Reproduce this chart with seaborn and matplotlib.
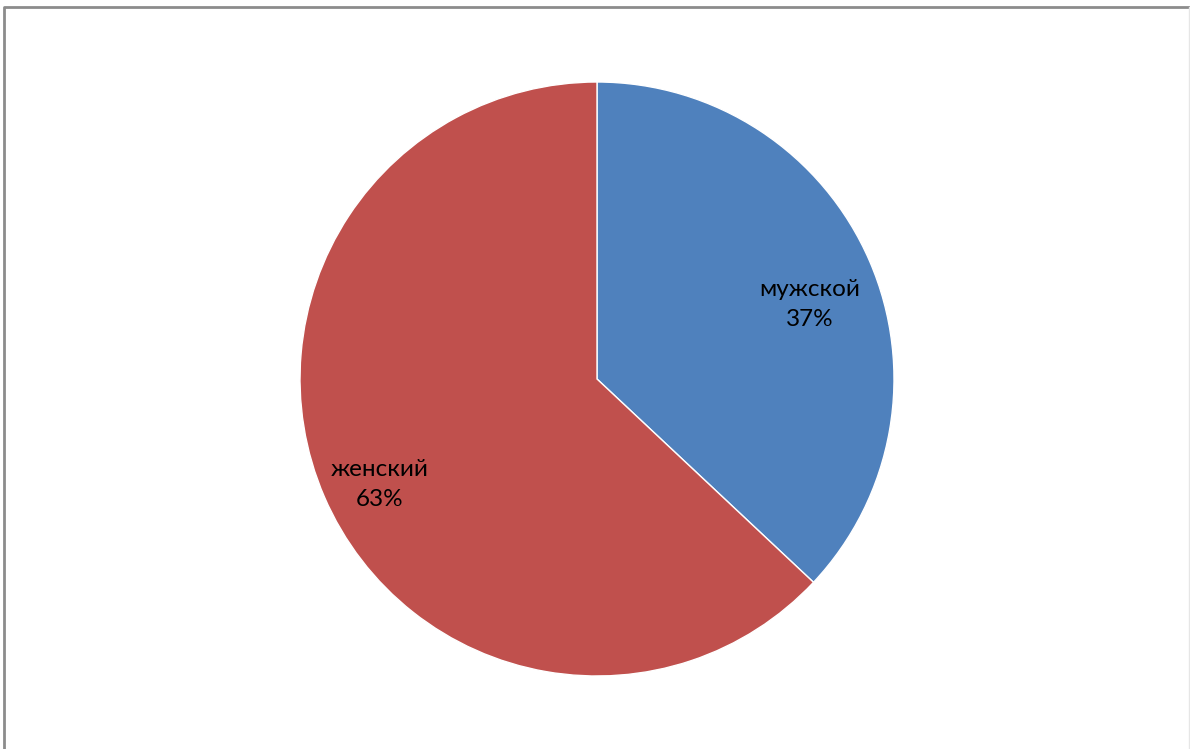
import matplotlib
matplotlib.use("Agg")
import matplotlib.pyplot as plt
import seaborn as sns
from matplotlib.lines import Line2D

categories = ['мужской', 'женский']
shares = [37, 63]
colors = ['#4F81BD', '#C0504D']

sns.set_style('white')
plt.rcParams['font.family'] = ['Lato', 'Open Sans', 'DejaVu Sans']

W, H = 1190, 749
fig = plt.figure(figsize=(W / 100, H / 100), dpi=100)

# frame of the chart area (bottom edge falls outside the picture)
x0, x1, ytop = 4 / W, 1188.5 / W, 1 - 6.5 / H
fig.add_artist(Line2D([x0, x0, x1], [0, ytop, ytop], transform=fig.transFigure,
                      color='#8c8c8c', linewidth=2))
fig.add_artist(Line2D([x1, x1], [ytop, 0], transform=fig.transFigure,
                      color='#e6e6e6', linewidth=1))

cx, cy, r = 597, 379, 297
ax = fig.add_axes([(cx - r) / W, (H - cy - r) / H, 2 * r / W, 2 * r / H])
wedges, _ = ax.pie(shares, colors=colors, startangle=90, counterclock=False,
                   radius=1, wedgeprops=dict(edgecolor='white', linewidth=1))
ax.set_xlim(-1, 1)
ax.set_ylim(-1, 1)
ax.set_aspect('auto')
ax.axis('off')

label_pos = [(0.717, 0.250), (-0.731, -0.355)]
for cat, val, (x, y) in zip(categories, shares, label_pos):
    ax.text(x, y, f'{cat}\n{val}%', ha='center', va='center',
            fontsize=17.5, linespacing=1.55, color='black')

fig.savefig('out.png', dpi=100)
